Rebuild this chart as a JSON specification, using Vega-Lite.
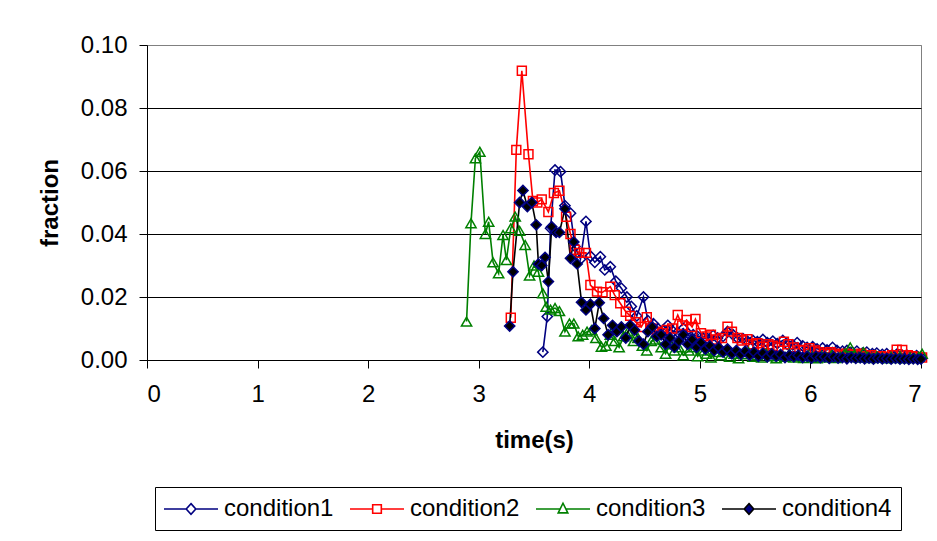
{
 "$schema": "https://vega.github.io/schema/vega-lite/v6.json",
 "width": 774, "height": 315,
 "autosize": {"type": "none"},
 "padding": {"left": 147, "top": 45, "right": 16, "bottom": 181},
 "background": "white",
 "config": {
  "view": {"stroke": "#808080", "strokeWidth": 1},
  "font": "Liberation Sans",
  "axis": {"labelFont": "Liberation Sans", "titleFont": "Liberation Sans", "labelColor": "black", "titleColor": "black", "domainColor": "black", "tickColor": "black", "labelFontSize": 24, "titleFontSize": 24, "titleFontWeight": "bold", "tickSize": 8, "domainWidth": 1, "tickWidth": 1}
 },
 "data": {"values": [
  {"series":"condition1","time":3.58,"fraction":0.0025},{"series":"condition1","time":3.62,"fraction":0.0138},{"series":"condition1","time":3.65,"fraction":0.0418},{"series":"condition1","time":3.69,"fraction":0.0603},{"series":"condition1","time":3.74,"fraction":0.0598},{"series":"condition1","time":3.78,"fraction":0.049},{"series":"condition1","time":3.83,"fraction":0.0466},{"series":"condition1","time":3.87,"fraction":0.036},{"series":"condition1","time":3.92,"fraction":0.032},{"series":"condition1","time":3.97,"fraction":0.044},{"series":"condition1","time":4.01,"fraction":0.033},{"series":"condition1","time":4.05,"fraction":0.031},{"series":"condition1","time":4.1,"fraction":0.0328},{"series":"condition1","time":4.14,"fraction":0.0286},{"series":"condition1","time":4.19,"fraction":0.0296},{"series":"condition1","time":4.24,"fraction":0.025},{"series":"condition1","time":4.29,"fraction":0.0228},{"series":"condition1","time":4.34,"fraction":0.02},{"series":"condition1","time":4.38,"fraction":0.017},{"series":"condition1","time":4.43,"fraction":0.014},{"series":"condition1","time":4.49,"fraction":0.02},{"series":"condition1","time":4.53,"fraction":0.0125},{"series":"condition1","time":4.58,"fraction":0.0115},{"series":"condition1","time":4.62,"fraction":0.01},{"series":"condition1","time":4.67,"fraction":0.0095},{"series":"condition1","time":4.71,"fraction":0.011},{"series":"condition1","time":4.76,"fraction":0.009},{"series":"condition1","time":4.8,"fraction":0.0088},{"series":"condition1","time":4.85,"fraction":0.01},{"series":"condition1","time":4.89,"fraction":0.0085},{"series":"condition1","time":4.94,"fraction":0.008},{"series":"condition1","time":4.98,"fraction":0.0075},{"series":"condition1","time":5.03,"fraction":0.007},{"series":"condition1","time":5.07,"fraction":0.0068},{"series":"condition1","time":5.12,"fraction":0.0078},{"series":"condition1","time":5.16,"fraction":0.007},{"series":"condition1","time":5.21,"fraction":0.0075},{"series":"condition1","time":5.25,"fraction":0.009},{"series":"condition1","time":5.3,"fraction":0.008},{"series":"condition1","time":5.34,"fraction":0.007},{"series":"condition1","time":5.39,"fraction":0.0068},{"series":"condition1","time":5.43,"fraction":0.006},{"series":"condition1","time":5.48,"fraction":0.0062},{"series":"condition1","time":5.52,"fraction":0.0058},{"series":"condition1","time":5.57,"fraction":0.0065},{"series":"condition1","time":5.61,"fraction":0.0055},{"series":"condition1","time":5.66,"fraction":0.006},{"series":"condition1","time":5.7,"fraction":0.0052},{"series":"condition1","time":5.75,"fraction":0.0062},{"series":"condition1","time":5.79,"fraction":0.005},{"series":"condition1","time":5.84,"fraction":0.0048},{"series":"condition1","time":5.88,"fraction":0.0055},{"series":"condition1","time":5.93,"fraction":0.0045},{"series":"condition1","time":5.97,"fraction":0.004},{"series":"condition1","time":6.02,"fraction":0.0042},{"series":"condition1","time":6.06,"fraction":0.0035},{"series":"condition1","time":6.11,"fraction":0.0038},{"series":"condition1","time":6.15,"fraction":0.0032},{"series":"condition1","time":6.2,"fraction":0.004},{"series":"condition1","time":6.24,"fraction":0.003},{"series":"condition1","time":6.29,"fraction":0.0028},{"series":"condition1","time":6.33,"fraction":0.003},{"series":"condition1","time":6.38,"fraction":0.0025},{"series":"condition1","time":6.42,"fraction":0.0028},{"series":"condition1","time":6.47,"fraction":0.0022},{"series":"condition1","time":6.51,"fraction":0.0025},{"series":"condition1","time":6.56,"fraction":0.002},{"series":"condition1","time":6.6,"fraction":0.0022},{"series":"condition1","time":6.65,"fraction":0.0018},{"series":"condition1","time":6.69,"fraction":0.002},{"series":"condition1","time":6.74,"fraction":0.0016},{"series":"condition1","time":6.78,"fraction":0.0018},{"series":"condition1","time":6.83,"fraction":0.0014},{"series":"condition1","time":6.87,"fraction":0.0016},{"series":"condition1","time":6.92,"fraction":0.0012},{"series":"condition1","time":6.96,"fraction":0.0014},{"series":"condition1","time":7.0,"fraction":0.001},

  {"series":"condition2","time":3.29,"fraction":0.0134},{"series":"condition2","time":3.34,"fraction":0.0667},{"series":"condition2","time":3.39,"fraction":0.0918},{"series":"condition2","time":3.45,"fraction":0.0653},{"series":"condition2","time":3.49,"fraction":0.0505},{"series":"condition2","time":3.53,"fraction":0.05},{"series":"condition2","time":3.57,"fraction":0.051},{"series":"condition2","time":3.63,"fraction":0.047},{"series":"condition2","time":3.68,"fraction":0.053},{"series":"condition2","time":3.73,"fraction":0.0537},{"series":"condition2","time":3.79,"fraction":0.0455},{"series":"condition2","time":3.83,"fraction":0.04},{"series":"condition2","time":3.87,"fraction":0.035},{"series":"condition2","time":3.91,"fraction":0.034},{"series":"condition2","time":3.97,"fraction":0.034},{"series":"condition2","time":4.01,"fraction":0.0238},{"series":"condition2","time":4.07,"fraction":0.0217},{"series":"condition2","time":4.12,"fraction":0.0215},{"series":"condition2","time":4.19,"fraction":0.0233},{"series":"condition2","time":4.23,"fraction":0.0206},{"series":"condition2","time":4.28,"fraction":0.018},{"series":"condition2","time":4.33,"fraction":0.0153},{"series":"condition2","time":4.37,"fraction":0.014},{"series":"condition2","time":4.42,"fraction":0.012},{"series":"condition2","time":4.47,"fraction":0.0105},{"series":"condition2","time":4.52,"fraction":0.0136},{"series":"condition2","time":4.56,"fraction":0.01},{"series":"condition2","time":4.61,"fraction":0.009},{"series":"condition2","time":4.66,"fraction":0.0085},{"series":"condition2","time":4.7,"fraction":0.0095},{"series":"condition2","time":4.75,"fraction":0.01},{"series":"condition2","time":4.8,"fraction":0.0143},{"series":"condition2","time":4.84,"fraction":0.011},{"series":"condition2","time":4.88,"fraction":0.0127},{"series":"condition2","time":4.93,"fraction":0.0105},{"series":"condition2","time":4.96,"fraction":0.013},{"series":"condition2","time":5.01,"fraction":0.0085},{"series":"condition2","time":5.06,"fraction":0.0075},{"series":"condition2","time":5.1,"fraction":0.008},{"series":"condition2","time":5.15,"fraction":0.0065},{"series":"condition2","time":5.2,"fraction":0.007},{"series":"condition2","time":5.25,"fraction":0.0106},{"series":"condition2","time":5.29,"fraction":0.009},{"series":"condition2","time":5.34,"fraction":0.007},{"series":"condition2","time":5.38,"fraction":0.0062},{"series":"condition2","time":5.43,"fraction":0.0066},{"series":"condition2","time":5.48,"fraction":0.005},{"series":"condition2","time":5.52,"fraction":0.0053},{"series":"condition2","time":5.57,"fraction":0.0042},{"series":"condition2","time":5.62,"fraction":0.005},{"series":"condition2","time":5.66,"fraction":0.0045},{"series":"condition2","time":5.71,"fraction":0.004},{"series":"condition2","time":5.76,"fraction":0.0058},{"series":"condition2","time":5.8,"fraction":0.005},{"series":"condition2","time":5.85,"fraction":0.004},{"series":"condition2","time":5.9,"fraction":0.0032},{"series":"condition2","time":5.94,"fraction":0.003},{"series":"condition2","time":5.99,"fraction":0.0037},{"series":"condition2","time":6.04,"fraction":0.003},{"series":"condition2","time":6.08,"fraction":0.0025},{"series":"condition2","time":6.13,"fraction":0.002},{"series":"condition2","time":6.18,"fraction":0.0025},{"series":"condition2","time":6.22,"fraction":0.002},{"series":"condition2","time":6.27,"fraction":0.0015},{"series":"condition2","time":6.32,"fraction":0.002},{"series":"condition2","time":6.36,"fraction":0.0018},{"series":"condition2","time":6.41,"fraction":0.0015},{"series":"condition2","time":6.46,"fraction":0.002},{"series":"condition2","time":6.5,"fraction":0.0012},{"series":"condition2","time":6.55,"fraction":0.0015},{"series":"condition2","time":6.6,"fraction":0.001},{"series":"condition2","time":6.64,"fraction":0.0012},{"series":"condition2","time":6.69,"fraction":0.001},{"series":"condition2","time":6.74,"fraction":0.0015},{"series":"condition2","time":6.78,"fraction":0.0033},{"series":"condition2","time":6.83,"fraction":0.0032},{"series":"condition2","time":6.88,"fraction":0.0015},{"series":"condition2","time":6.92,"fraction":0.0012},{"series":"condition2","time":6.97,"fraction":0.001},{"series":"condition2","time":7.01,"fraction":0.0008},

  {"series":"condition3","time":2.89,"fraction":0.0122},{"series":"condition3","time":2.93,"fraction":0.0434},{"series":"condition3","time":2.97,"fraction":0.064},{"series":"condition3","time":3.01,"fraction":0.0661},{"series":"condition3","time":3.06,"fraction":0.04},{"series":"condition3","time":3.09,"fraction":0.0439},{"series":"condition3","time":3.13,"fraction":0.031},{"series":"condition3","time":3.18,"fraction":0.0275},{"series":"condition3","time":3.22,"fraction":0.0397},{"series":"condition3","time":3.25,"fraction":0.0317},{"series":"condition3","time":3.29,"fraction":0.0418},{"series":"condition3","time":3.33,"fraction":0.0455},{"series":"condition3","time":3.37,"fraction":0.041},{"series":"condition3","time":3.42,"fraction":0.0365},{"series":"condition3","time":3.46,"fraction":0.0268},{"series":"condition3","time":3.5,"fraction":0.03},{"series":"condition3","time":3.54,"fraction":0.028},{"series":"condition3","time":3.58,"fraction":0.0212},{"series":"condition3","time":3.61,"fraction":0.0169},{"series":"condition3","time":3.65,"fraction":0.016},{"series":"condition3","time":3.69,"fraction":0.0165},{"series":"condition3","time":3.73,"fraction":0.0155},{"series":"condition3","time":3.78,"fraction":0.009},{"series":"condition3","time":3.82,"fraction":0.0116},{"series":"condition3","time":3.86,"fraction":0.0116},{"series":"condition3","time":3.9,"fraction":0.0075},{"series":"condition3","time":3.94,"fraction":0.008},{"series":"condition3","time":3.98,"fraction":0.009},{"series":"condition3","time":4.02,"fraction":0.0095},{"series":"condition3","time":4.06,"fraction":0.007},{"series":"condition3","time":4.11,"fraction":0.0042},{"series":"condition3","time":4.15,"fraction":0.0045},{"series":"condition3","time":4.19,"fraction":0.008},{"series":"condition3","time":4.23,"fraction":0.006},{"series":"condition3","time":4.27,"fraction":0.004},{"series":"condition3","time":4.31,"fraction":0.0075},{"series":"condition3","time":4.35,"fraction":0.009},{"series":"condition3","time":4.4,"fraction":0.006},{"series":"condition3","time":4.44,"fraction":0.007},{"series":"condition3","time":4.48,"fraction":0.0045},{"series":"condition3","time":4.52,"fraction":0.003},{"series":"condition3","time":4.56,"fraction":0.006},{"series":"condition3","time":4.6,"fraction":0.0065},{"series":"condition3","time":4.65,"fraction":0.004},{"series":"condition3","time":4.69,"fraction":0.002},{"series":"condition3","time":4.73,"fraction":0.005},{"series":"condition3","time":4.77,"fraction":0.003},{"series":"condition3","time":4.81,"fraction":0.004},{"series":"condition3","time":4.85,"fraction":0.0015},{"series":"condition3","time":4.9,"fraction":0.003},{"series":"condition3","time":4.94,"fraction":0.004},{"series":"condition3","time":4.98,"fraction":0.0012},{"series":"condition3","time":5.02,"fraction":0.003},{"series":"condition3","time":5.06,"fraction":0.002},{"series":"condition3","time":5.1,"fraction":0.0008},{"series":"condition3","time":5.15,"fraction":0.0025},{"series":"condition3","time":5.19,"fraction":0.0015},{"series":"condition3","time":5.23,"fraction":0.003},{"series":"condition3","time":5.27,"fraction":0.001},{"series":"condition3","time":5.31,"fraction":0.002},{"series":"condition3","time":5.35,"fraction":0.0005},{"series":"condition3","time":5.4,"fraction":0.0018},{"series":"condition3","time":5.44,"fraction":0.0025},{"series":"condition3","time":5.48,"fraction":0.001},{"series":"condition3","time":5.52,"fraction":0.0015},{"series":"condition3","time":5.56,"fraction":0.0008},{"series":"condition3","time":5.6,"fraction":0.002},{"series":"condition3","time":5.65,"fraction":0.0012},{"series":"condition3","time":5.69,"fraction":0.0005},{"series":"condition3","time":5.73,"fraction":0.0015},{"series":"condition3","time":5.77,"fraction":0.001},{"series":"condition3","time":5.81,"fraction":0.002},{"series":"condition3","time":5.85,"fraction":0.0008},{"series":"condition3","time":5.9,"fraction":0.0012},{"series":"condition3","time":5.94,"fraction":0.0006},{"series":"condition3","time":5.98,"fraction":0.0015},{"series":"condition3","time":6.02,"fraction":0.001},{"series":"condition3","time":6.06,"fraction":0.0005},{"series":"condition3","time":6.1,"fraction":0.0012},{"series":"condition3","time":6.15,"fraction":0.0008},{"series":"condition3","time":6.19,"fraction":0.0015},{"series":"condition3","time":6.23,"fraction":0.0006},{"series":"condition3","time":6.27,"fraction":0.001},{"series":"condition3","time":6.31,"fraction":0.002},{"series":"condition3","time":6.36,"fraction":0.004},{"series":"condition3","time":6.4,"fraction":0.0015},{"series":"condition3","time":6.44,"fraction":0.0008},{"series":"condition3","time":6.48,"fraction":0.0025},{"series":"condition3","time":6.52,"fraction":0.001},{"series":"condition3","time":6.56,"fraction":0.0006},{"series":"condition3","time":6.6,"fraction":0.0012},{"series":"condition3","time":6.65,"fraction":0.0008},{"series":"condition3","time":6.69,"fraction":0.0005},{"series":"condition3","time":6.73,"fraction":0.001},{"series":"condition3","time":6.77,"fraction":0.0006},{"series":"condition3","time":6.81,"fraction":0.0012},{"series":"condition3","time":6.85,"fraction":0.0005},{"series":"condition3","time":6.9,"fraction":0.0008},{"series":"condition3","time":6.94,"fraction":0.0006},{"series":"condition3","time":6.98,"fraction":0.001},{"series":"condition3","time":7.01,"fraction":0.002},

  {"series":"condition4","time":3.28,"fraction":0.0108},{"series":"condition4","time":3.31,"fraction":0.028},{"series":"condition4","time":3.37,"fraction":0.05},{"series":"condition4","time":3.4,"fraction":0.0538},{"series":"condition4","time":3.44,"fraction":0.0487},{"series":"condition4","time":3.48,"fraction":0.05},{"series":"condition4","time":3.52,"fraction":0.0429},{"series":"condition4","time":3.54,"fraction":0.0305},{"series":"condition4","time":3.57,"fraction":0.03},{"series":"condition4","time":3.6,"fraction":0.0326},{"series":"condition4","time":3.63,"fraction":0.0249},{"series":"condition4","time":3.66,"fraction":0.0423},{"series":"condition4","time":3.7,"fraction":0.0405},{"series":"condition4","time":3.73,"fraction":0.0405},{"series":"condition4","time":3.78,"fraction":0.048},{"series":"condition4","time":3.83,"fraction":0.0323},{"series":"condition4","time":3.86,"fraction":0.0375},{"series":"condition4","time":3.89,"fraction":0.0305},{"series":"condition4","time":3.93,"fraction":0.0183},{"series":"condition4","time":3.97,"fraction":0.0159},{"series":"condition4","time":4.01,"fraction":0.0177},{"series":"condition4","time":4.05,"fraction":0.01},{"series":"condition4","time":4.09,"fraction":0.0182},{"series":"condition4","time":4.13,"fraction":0.0132},{"series":"condition4","time":4.17,"fraction":0.008},{"series":"condition4","time":4.21,"fraction":0.011},{"series":"condition4","time":4.25,"fraction":0.009},{"series":"condition4","time":4.29,"fraction":0.0105},{"series":"condition4","time":4.33,"fraction":0.007},{"series":"condition4","time":4.37,"fraction":0.011},{"series":"condition4","time":4.41,"fraction":0.0095},{"series":"condition4","time":4.45,"fraction":0.006},{"series":"condition4","time":4.49,"fraction":0.005},{"series":"condition4","time":4.53,"fraction":0.009},{"series":"condition4","time":4.57,"fraction":0.0105},{"series":"condition4","time":4.61,"fraction":0.0075},{"series":"condition4","time":4.65,"fraction":0.008},{"series":"condition4","time":4.69,"fraction":0.005},{"series":"condition4","time":4.73,"fraction":0.007},{"series":"condition4","time":4.77,"fraction":0.004},{"series":"condition4","time":4.81,"fraction":0.006},{"series":"condition4","time":4.85,"fraction":0.008},{"series":"condition4","time":4.89,"fraction":0.005},{"series":"condition4","time":4.93,"fraction":0.0065},{"series":"condition4","time":4.97,"fraction":0.004},{"series":"condition4","time":5.01,"fraction":0.0055},{"series":"condition4","time":5.05,"fraction":0.0035},{"series":"condition4","time":5.09,"fraction":0.0045},{"series":"condition4","time":5.13,"fraction":0.003},{"series":"condition4","time":5.17,"fraction":0.004},{"series":"condition4","time":5.21,"fraction":0.0025},{"series":"condition4","time":5.25,"fraction":0.0035},{"series":"condition4","time":5.29,"fraction":0.002},{"series":"condition4","time":5.33,"fraction":0.003},{"series":"condition4","time":5.37,"fraction":0.0018},{"series":"condition4","time":5.41,"fraction":0.0028},{"series":"condition4","time":5.45,"fraction":0.0015},{"series":"condition4","time":5.49,"fraction":0.0025},{"series":"condition4","time":5.53,"fraction":0.0012},{"series":"condition4","time":5.57,"fraction":0.0022},{"series":"condition4","time":5.61,"fraction":0.001},{"series":"condition4","time":5.65,"fraction":0.002},{"series":"condition4","time":5.69,"fraction":0.0012},{"series":"condition4","time":5.73,"fraction":0.0018},{"series":"condition4","time":5.77,"fraction":0.0008},{"series":"condition4","time":5.81,"fraction":0.0015},{"series":"condition4","time":5.85,"fraction":0.001},{"series":"condition4","time":5.89,"fraction":0.0015},{"series":"condition4","time":5.93,"fraction":0.0008},{"series":"condition4","time":5.97,"fraction":0.0012},{"series":"condition4","time":6.01,"fraction":0.0006},{"series":"condition4","time":6.05,"fraction":0.0012},{"series":"condition4","time":6.09,"fraction":0.0008},{"series":"condition4","time":6.13,"fraction":0.001},{"series":"condition4","time":6.17,"fraction":0.0005},{"series":"condition4","time":6.21,"fraction":0.001},{"series":"condition4","time":6.25,"fraction":0.0006},{"series":"condition4","time":6.29,"fraction":0.0008},{"series":"condition4","time":6.33,"fraction":0.0004},{"series":"condition4","time":6.37,"fraction":0.0008},{"series":"condition4","time":6.41,"fraction":0.0005},{"series":"condition4","time":6.45,"fraction":0.0007},{"series":"condition4","time":6.49,"fraction":0.0004},{"series":"condition4","time":6.53,"fraction":0.0006},{"series":"condition4","time":6.57,"fraction":0.0003},{"series":"condition4","time":6.61,"fraction":0.0006},{"series":"condition4","time":6.65,"fraction":0.0004},{"series":"condition4","time":6.69,"fraction":0.0005},{"series":"condition4","time":6.73,"fraction":0.0003},{"series":"condition4","time":6.77,"fraction":0.0005},{"series":"condition4","time":6.81,"fraction":0.0003},{"series":"condition4","time":6.85,"fraction":0.0004},{"series":"condition4","time":6.89,"fraction":0.0002},{"series":"condition4","time":6.93,"fraction":0.0004},{"series":"condition4","time":6.97,"fraction":0.0002},{"series":"condition4","time":7.0,"fraction":0.0003}
 ]},
 "encoding": {
  "x": {"field": "time", "type": "quantitative", "scale": {"domain": [0, 7], "nice": false},
        "axis": {"values": [0,1,2,3,4,5,6,7], "format": "d", "title": "time(s)", "grid": false, "labelPadding": 14, "titlePadding": 22}},
  "y": {"field": "fraction", "type": "quantitative", "scale": {"domain": [0, 0.1], "nice": false},
        "axis": {"values": [0,0.02,0.04,0.06,0.08,0.1], "format": ".2f", "title": "fraction", "grid": true,
                 "gridColor": {"condition": {"test": "datum.value >= 0.099", "value": "#808080"}, "value": "black"},
                 "gridWidth": 1, "labelPadding": 12, "titlePadding": 18}}
 },
 "layer": [
  {
   "mark": {"type": "line", "strokeWidth": 1.6},
   "encoding": {
    "color": {"field": "series", "type": "nominal",
              "scale": {"domain": ["condition1","condition2","condition3","condition4"], "range": ["#000080","#FF0000","#008000","#000000"]},
              "legend": {
                "orient": "none", "legendX": 8, "legendY": 442, "direction": "horizontal", "columns": 4, "title": null,
                "strokeColor": "black", "fillColor": "white", "padding": 9, "columnPadding": 12, "rowPadding": 0,
                "symbolSize": 576, "symbolStrokeWidth": 1.6, "symbolOffset": 14, "labelOffset": 20, "labelLimit": 300,
                "labelFont": "Liberation Sans", "labelFontSize": 24, "labelColor": "black",
                "encode": {"symbols": {"update": {
                  "shape": {"signal": "datum.value === 'condition1' ? 'M-2.25,0H-0.4M0.4,0H2.25M0,-0.45L0.4,0L0,0.45L-0.4,0Z' : datum.value === 'condition2' ? 'M-2.25,0H-0.36M0.36,0H2.25M-0.36,-0.36H0.36V0.36H-0.36Z' : datum.value === 'condition3' ? 'M-2.25,0H-0.24M0.24,0H2.25M0,-0.48L0.4,0.32L-0.4,0.32Z' : 'M-2.25,0H-0.4M0.4,0H2.25M0,-0.45L0.4,0L0,0.45L-0.4,0Z'"},
                  "fill": {"signal": "datum.value === 'condition4' ? '#000080' : 'white'"},
                  "strokeWidth": {"value": 1.6},
                  "opacity": {"value": 1}
                }}}
              }}
   }
  },
  {
   "transform": [{"filter": "datum.series === 'condition1'"}],
   "mark": {"type": "point", "shape": "diamond", "filled": false, "size": 105, "strokeWidth": 1.5, "opacity": 1, "stroke": "#000080"}
  },
  {
   "transform": [{"filter": "datum.series === 'condition2'"}],
   "mark": {"type": "point", "shape": "square", "filled": false, "size": 80, "strokeWidth": 1.5, "opacity": 1, "stroke": "#FF0000"}
  },
  {
   "transform": [{"filter": "datum.series === 'condition3'"}],
   "mark": {"type": "point", "shape": "triangle-up", "filled": false, "size": 105, "strokeWidth": 1.5, "opacity": 1, "stroke": "#008000"}
  },
  {
   "transform": [{"filter": "datum.series === 'condition4'"}],
   "mark": {"type": "point", "shape": "diamond", "filled": true, "size": 105, "strokeWidth": 1.5, "opacity": 1, "fill": "#000000", "stroke": "#000080"}
  }
 ]
}
